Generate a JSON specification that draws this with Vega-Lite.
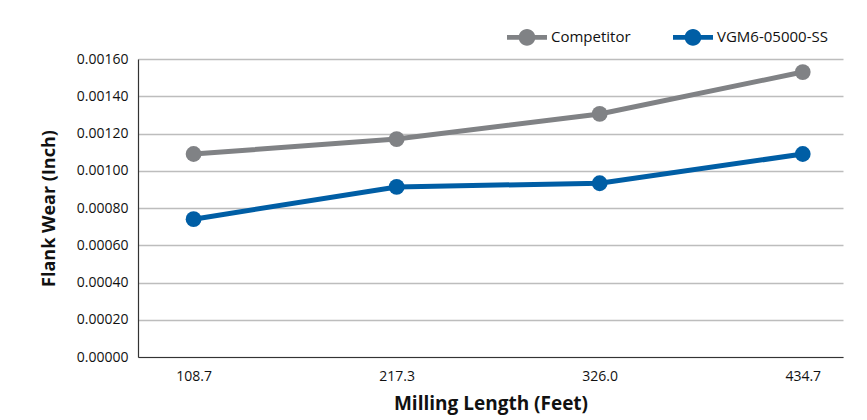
{
  "$schema": "https://vega.github.io/schema/vega-lite/v6.json",
  "autosize": {"type": "none"},
  "width": 705,
  "height": 298,
  "padding": {"left": 138, "top": 59, "right": 24, "bottom": 63},
  "background": "white",
  "data": {
    "values": [
      {"length": "108.7", "series": "Competitor", "wear": 0.00109},
      {"length": "217.3", "series": "Competitor", "wear": 0.00117},
      {"length": "326.0", "series": "Competitor", "wear": 0.001305},
      {"length": "434.7", "series": "Competitor", "wear": 0.00153},
      {"length": "108.7", "series": "VGM6-05000-SS", "wear": 0.00074},
      {"length": "217.3", "series": "VGM6-05000-SS", "wear": 0.000913},
      {"length": "326.0", "series": "VGM6-05000-SS", "wear": 0.000933},
      {"length": "434.7", "series": "VGM6-05000-SS", "wear": 0.00109}
    ]
  },
  "mark": {"type": "line", "strokeWidth": 5, "point": {"filled": true, "size": 250, "opacity": 1}},
  "encoding": {
    "x": {
      "field": "length", "type": "ordinal", "sort": null,
      "scale": {"type": "point", "padding": 0.236, "align": 0.58},
      "axis": {
        "title": "Milling Length (Feet)", "labelAngle": 0, "ticks": false, "grid": false,
        "labelPadding": 12, "labelFontSize": 14, "labelColor": "#111",
        "titleFontSize": 19, "titleFontWeight": "bold", "titlePadding": 11, "titleColor": "#111",
        "domainColor": "#333", "domainWidth": 1.2
      }
    },
    "y": {
      "field": "wear", "type": "quantitative",
      "scale": {"domain": [0, 0.0016], "nice": false},
      "axis": {
        "title": "Flank Wear (Inch)", "format": ".5f", "values": [0, 0.0002, 0.0004, 0.0006, 0.0008, 0.001, 0.0012, 0.0014, 0.0016],
        "ticks": false, "labelPadding": 10, "labelFontSize": 14, "labelColor": "#111",
        "gridColor": "#bdbdbd", "gridWidth": 1.5,
        "titleFontSize": 18, "titleFontWeight": "bold", "titlePadding": 18, "titleColor": "#111",
        "domainColor": "#333", "domainWidth": 1.2
      }
    },
    "color": {
      "field": "series", "type": "nominal",
      "scale": {"domain": ["Competitor", "VGM6-05000-SS"], "range": ["#808285", "#005ea5"]},
      "legend": {
        "title": null, "orient": "none", "direction": "horizontal",
        "legendX": 369, "legendY": -42,
        "symbolType": "M-1,-0.12L1,-0.12L1,0.12L-1,0.12Z M-0.42,0A0.42,0.42 0 1,1 0.42,0A0.42,0.42 0 1,1 -0.42,0Z",
        "symbolSize": 1600, "symbolStrokeWidth": 0,
        "labelFontSize": 15, "labelColor": "#111", "columnPadding": 42, "labelOffset": 4,
        "encode": {"symbols": {"update": {"fill": {"scale": "color", "field": "value"}, "stroke": {"value": "transparent"}}}}
      }
    }
  },
  "config": {
    "font": "Open Sans",
    "view": {"stroke": null}
  }
}
